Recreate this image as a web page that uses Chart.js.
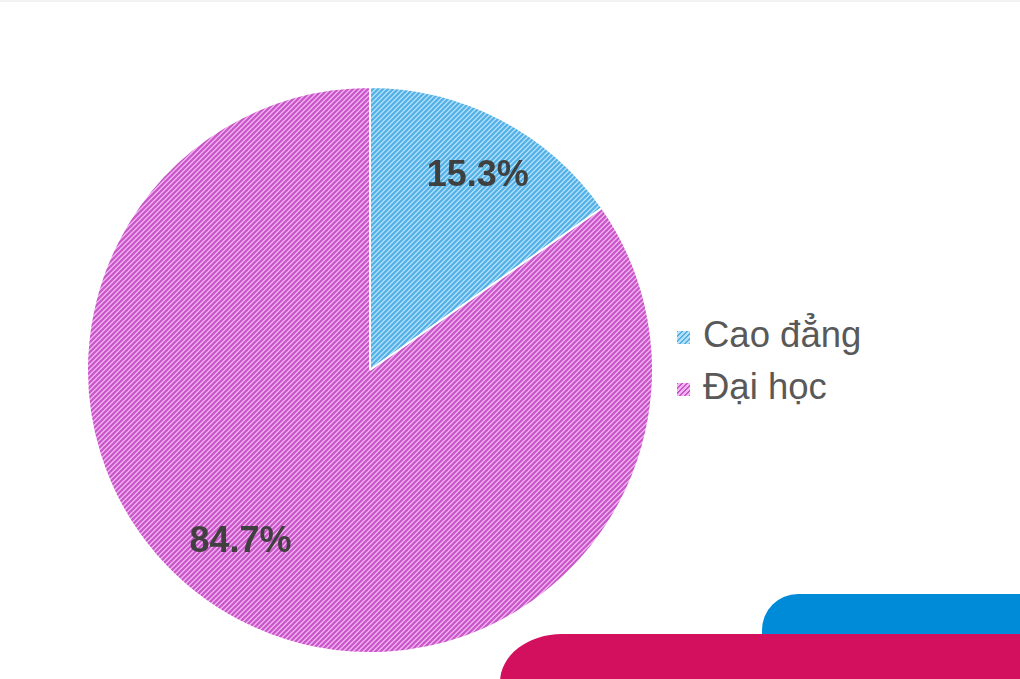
<!DOCTYPE html>
<html lang="vi">
<head>
<meta charset="utf-8">
<title>Trình độ</title>
<script src="https://cdn.jsdelivr.net/npm/chart.js@4.4.1/dist/chart.umd.min.js"></script>
<style>
  html, body { margin: 0; padding: 0; background: #fff; }
  body { width: 1020px; height: 679px; position: relative; overflow: hidden; font-family: "Liberation Sans", Arial, sans-serif; }
  #topbar { position: absolute; left: 0; top: 0; width: 1020px; height: 2px; background: #f2f2f2; }
  #wrap { position: absolute; left: 86px; top: 86px; width: 568px; height: 568px; }
  #legend { position: absolute; left: 677px; top: 309px; }
  .item { display: flex; align-items: center; height: 52px; font-size: 36.5px; color: #595959; }
  .box { width: 13px; height: 13px; margin-right: 13px; margin-top: 4px; }
  .deco-blue { position: absolute; left: 762px; top: 594px; width: 300px; height: 120px; background: #008bd9; border-top-left-radius: 36px; }
  .deco-red { position: absolute; left: 500px; top: 634px; width: 600px; height: 80px; background: #d2105e; border-top-left-radius: 62px 48px; }
</style>
</head>
<body>
<div id="topbar"></div>
<div id="wrap"><canvas id="grafica-trinhdo"></canvas></div>
<div id="legend"></div>
<div class="deco-blue"></div>
<div class="deco-red"></div>
<script>
// Datos del gráfico
const categorias = ["Cao đẳng", "Đại học"];
const porcentajes = [15.3, 84.7];
const etiquetas = ["15.3%", "84.7%"];

// colores: [claro, oscuro]
const coloresClaro = ["#b4e0f9", "#f2b4f2"];
const coloresOscuro = ["#52b0e6", "#c856c8"];

// ajuste de posición de etiquetas (radio relativo, giro en grados)
const ajusteEtiquetas = [{ r: 0.785, giro: 1.5 }, { r: 0.76, giro: 9.5 }];

// ✅ patrón de rayas diagonales
function crearPatron(claro, oscuro) {
  const p = 5;
  const c = document.createElement("canvas");
  c.width = p; c.height = p;
  const ctx = c.getContext("2d");
  ctx.fillStyle = claro;
  ctx.fillRect(0, 0, p, p);
  ctx.strokeStyle = oscuro;
  ctx.lineWidth = 2.2;
  ctx.beginPath();
  ctx.moveTo(-1, p + 1); ctx.lineTo(p + 1, -1);
  ctx.moveTo(-1, 1); ctx.lineTo(1, -1);
  ctx.moveTo(p - 1, p + 1); ctx.lineTo(p + 1, p - 1);
  ctx.stroke();
  return document.createElement("canvas").getContext("2d").createPattern(c, "repeat");
}

const patrones = categorias.map((_, i) => crearPatron(coloresClaro[i], coloresOscuro[i]));

// ✅ plugin para etiquetas de porcentaje
const etiquetasPlugin = {
  id: "etiquetasPie",
  afterDatasetsDraw(chart) {
    const ctx = chart.ctx;
    const meta = chart.getDatasetMeta(0);
    ctx.save();
    ctx.font = "bold 36px 'Liberation Sans', Arial, sans-serif";
    ctx.fillStyle = "#404040";
    ctx.textAlign = "center";
    ctx.textBaseline = "middle";
    meta.data.forEach((arc, i) => {
      const aj = ajusteEtiquetas[i];
      const medio = (arc.startAngle + arc.endAngle) / 2 + aj.giro * Math.PI / 180;
      const r = arc.outerRadius * aj.r;
      ctx.fillText(etiquetas[i], arc.x + r * Math.cos(medio), arc.y + r * Math.sin(medio));
    });
    ctx.restore();
  }
};

new Chart(document.getElementById("grafica-trinhdo"), {
  type: "pie",
  data: {
    labels: categorias,
    datasets: [{
      data: porcentajes,
      backgroundColor: patrones,
      borderColor: "#ffffff",
      borderWidth: 2
    }]
  },
  options: {
    responsive: true,
    maintainAspectRatio: false,
    animation: false,
    plugins: {
      legend: { display: false },
      tooltip: { enabled: false }
    }
  },
  plugins: [etiquetasPlugin]
});

// ✅ leyenda
const leyenda = document.getElementById("legend");
categorias.forEach((nombre, i) => {
  const div = document.createElement("div");
  div.className = "item";
  div.innerHTML = `<span class="box" style="background: repeating-linear-gradient(135deg, ${coloresOscuro[i]} 0 1.4px, ${coloresClaro[i]} 1.4px 3.5px);"></span><span>${nombre}</span>`;
  leyenda.appendChild(div);
});
</script>
</body>
</html>
